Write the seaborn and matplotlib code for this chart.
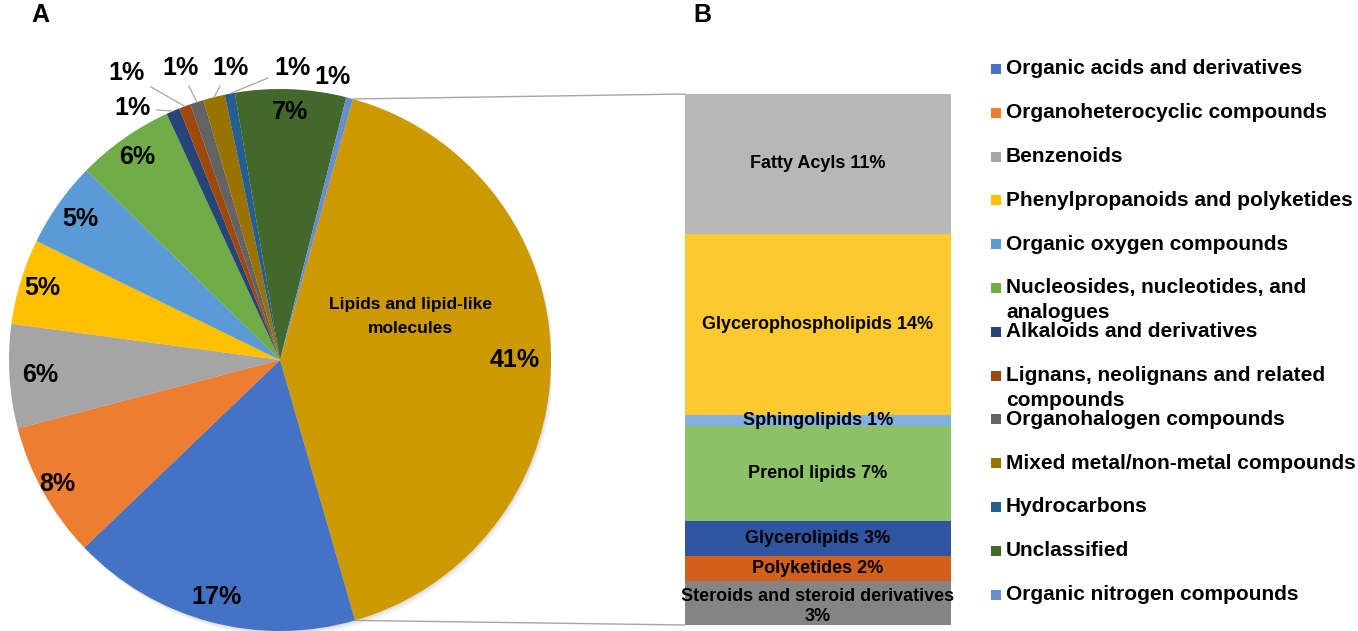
import matplotlib
matplotlib.use("Agg")
import matplotlib.pyplot as plt
import numpy as np
import pandas as pd
import seaborn as sns
from matplotlib.patches import Circle, ConnectionPatch, Rectangle

# pie: chemical superclasses (shares in %)
pie_classes = [
    "Lipids and lipid-like molecules",
    "Organic acids and derivatives",
    "Organoheterocyclic compounds",
    "Benzenoids",
    "Phenylpropanoids and polyketides",
    "Organic oxygen compounds",
    "Nucleosides, nucleotides, and analogues",
    "Alkaloids and derivatives",
    "Lignans, neolignans and related compounds",
    "Organohalogen compounds",
    "Mixed metal/non-metal compounds",
    "Hydrocarbons",
    "Unclassified",
    "Organic nitrogen compounds",
]
pie_shares = [41.2, 17.3, 8.1, 6.2, 5.1, 5.1, 5.8, 0.8, 0.7, 0.8, 1.3, 0.6, 6.6, 0.4]
pie_colors = [
    "#cc9a00", "#4472c4", "#ed7d31", "#a5a5a5", "#ffc000", "#5b9bd5", "#70ad47",
    "#264478", "#9e480e", "#636363", "#997300", "#255e91", "#43682b", "#698ed0",
]

legend_labels = [
    "Organic acids and derivatives",
    "Organoheterocyclic compounds",
    "Benzenoids",
    "Phenylpropanoids and polyketides",
    "Organic oxygen compounds",
    "Nucleosides, nucleotides, and\nanalogues",
    "Alkaloids and derivatives",
    "Lignans, neolignans and related\ncompounds",
    "Organohalogen compounds",
    "Mixed metal/non-metal compounds",
    "Hydrocarbons",
    "Unclassified",
    "Organic nitrogen compounds",
]

# bar: lipid subclasses, bottom to top
lipid_classes = [
    "Steroids and steroid derivatives",
    "Polyketides",
    "Glycerolipids",
    "Prenol lipids",
    "Sphingolipids",
    "Glycerophospholipids",
    "Fatty Acyls",
]
lipid_shares = [3.4, 1.9, 2.7, 7.4, 0.8, 14.0, 10.8]
lipid_colors = ["#848484", "#d2601a", "#2f55a1", "#8cc168", "#7fb1e3", "#fdc931", "#b7b7b7"]

W, H = 1358, 631

sns.set_theme(style="white")
plt.rcParams["font.family"] = ["Liberation Sans", "DejaVu Sans"]
plt.rcParams["font.weight"] = "bold"
plt.rcParams["text.color"] = "black"

fig = plt.figure(figsize=(W / 100, H / 100), dpi=100)

# ---- pie ----
ax_pie = fig.add_axes([9 / W, 0, 542 / W, 542 / H])
# soft drop shadow like the office chart
for k, a in enumerate([0.05, 0.04, 0.03]):
    ax_pie.add_patch(Circle((0.004 * (k + 1), -0.006 * (k + 1)), 1.0, color="black",
                            alpha=a, lw=0, zorder=0))
wedges, _ = ax_pie.pie(
    pie_shares, colors=pie_colors, startangle=74.4, counterclock=False,
    radius=1, wedgeprops=dict(linewidth=0, zorder=1),
)
ax_pie.set_xlim(-1, 1)
ax_pie.set_ylim(-1, 1)
ax_pie.axis("off")


def pct_label(v):
    return f"{max(1, int(round(v)))}%"


inside_radius = {1: 0.907, 2: 0.94, 3: 0.888, 4: 0.915, 5: 0.9, 6: 0.917, 12: 0.915}
outside_pos = {7: (1.078, 120.4), 8: (1.2, 118.1), 9: (1.139, 108.9),
               10: (1.093, 99.7), 11: (1.078, 87.6), 13: (1.062, 79.4)}
pct_size = 18

for i, w in enumerate(wedges):
    mid = np.deg2rad((w.theta1 + w.theta2) / 2)
    if i == 0:
        ax_pie.text(0.48, 0.159, "Lipids and lipid-like\nmolecules", ha="center",
                    va="center", fontsize=12.5, fontweight="bold", linespacing=1.75)
        ax_pie.text(0.867, 0.0, pct_label(pie_shares[i]), ha="center", va="center",
                    fontsize=pct_size, fontweight="bold")
    elif i in inside_radius:
        r = inside_radius[i]
        ax_pie.text(r * np.cos(mid), r * np.sin(mid), pct_label(pie_shares[i]),
                    ha="center", va="center", fontsize=pct_size, fontweight="bold")
    else:
        r, ang = outside_pos[i]
        a = np.deg2rad(ang)
        tx, ty = r * np.cos(a), r * np.sin(a)
        if i == 13:
            ax_pie.text(tx, ty, pct_label(pie_shares[i]), ha="center", va="center",
                        fontsize=pct_size, fontweight="bold")
        else:
            ax_pie.annotate(
                pct_label(pie_shares[i]), xy=(np.cos(mid), np.sin(mid)), xytext=(tx, ty),
                ha="center", va="center", fontsize=pct_size, fontweight="bold",
                arrowprops=dict(arrowstyle="-", color="#a6a6a6", lw=0.9,
                                shrinkA=2, shrinkB=0),
            )

# ---- stacked bar ----
ax_bar = fig.add_axes([685 / W, 6 / H, 266 / W, 531 / H])
bar_df = pd.DataFrame({"cls": lipid_classes, "share": lipid_shares})
bar_df["top"] = bar_df["share"].cumsum()
bar_df["bottom"] = bar_df["top"] - bar_df["share"]

for i in reversed(range(len(bar_df))):
    sns.barplot(x=[0], y=[bar_df["top"][i]], color=lipid_colors[i], width=1,
                saturation=1, linewidth=0, ax=ax_bar)

for _, row in bar_df.iterrows():
    wrapped = len(row["cls"]) > 25
    sep = "\n" if wrapped else " "
    yc = row["bottom"] + row["share"] / 2 - (0.25 if wrapped else 0)
    ax_bar.text(0, yc, f"{row['cls']}{sep}{pct_label(row['share'])}",
                ha="center", va="center", fontsize=13, fontweight="bold", linespacing=1.2)

ax_bar.set_xlim(-0.5, 0.5)
ax_bar.set_ylim(0, bar_df["top"].iloc[-1])
ax_bar.axis("off")

# connector lines between lipid wedge and bar
lip = wedges[0]
for theta, yb in [(lip.theta2, 1), (lip.theta1, 0)]:
    t = np.deg2rad(theta)
    con = ConnectionPatch(xyA=(np.cos(t), np.sin(t)), coordsA=ax_pie.transData,
                          xyB=(0, yb), coordsB=ax_bar.transAxes,
                          color="#a6a6a6", lw=1.0)
    fig.add_artist(con)

# ---- legend ----
for i, lab in enumerate(legend_labels):
    yc = 69 + i * 43.8
    fig.add_artist(Rectangle((991 / W, 1 - (yc + 5) / H), 10 / W, 10 / H,
                             transform=fig.transFigure, color=pie_colors[i + 1], lw=0))
    for j, line in enumerate(lab.split("\n")):
        fig.text(1006 / W, 1 - (yc + j * 24.5) / H, line, ha="left", va="center",
                 fontsize=15, fontweight="bold")

fig.text(40 / W, 1 - 15 / H, "A", ha="center", va="center", fontsize=18, fontweight="bold")
fig.text(702 / W, 1 - 15 / H, "B", ha="center", va="center", fontsize=18, fontweight="bold")

fig.savefig("out.png", dpi=100, facecolor="white")
